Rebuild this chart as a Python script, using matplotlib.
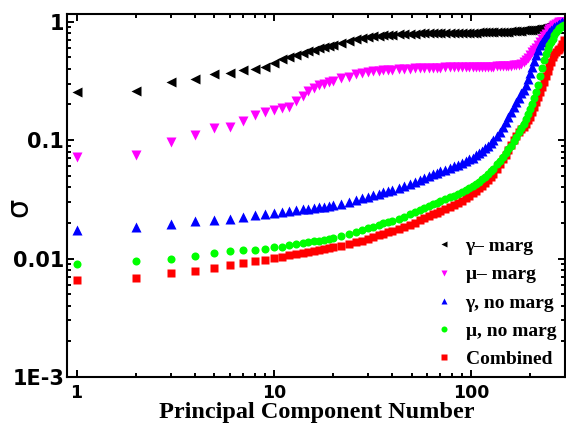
import matplotlib
matplotlib.use('Agg')
from matplotlib import pyplot as plt
from matplotlib.ticker import FixedLocator, FixedFormatter, LogLocator, NullFormatter

# principal component index (x) shared by all series
pc = [1, 2, 3, 4, 5, 6, 7, 8, 9, 10, 11, 12, 13, 14, 15, 16, 17, 18, 19, 20,
      22, 24, 26, 28, 30, 32, 34, 36, 38, 40,
      43, 46, 49, 52, 55, 58, 61, 64, 67, 70,
      74, 78, 82, 86, 90, 94, 98, 102, 106, 110, 114, 118, 122, 126, 130,
      135, 140, 145, 150, 155, 160, 165, 170, 175, 180, 185, 190, 195, 200,
      205, 210, 215, 220, 225, 230, 235, 240, 245, 250, 255, 260, 265, 270,
      275, 280, 285, 290, 295]

gamma_marg = [.256, .262, .31, .33, .36, .37, .39, .40, .415, .445, .485, .505, .525, .545, .56, .58, .595, .61, .625, .64,
              .665, .69, .71, .73, .745, .755, .762, .768, .774, .778,
              .783, .787, .79, .793, .795, .797, .798, .799, .80, .80,
              .801, .802, .803, .804, .805, .806, .807, .808, .809, .81, .811, .812, .813, .814, .815,
              .817, .819, .821, .823, .825, .827, .829, .832, .835, .838, .842, .846, .85, .854,
              .858, .863, .868, .874, .88, .888, .898, .91, .92, .932, .943, .952, .96, .967,
              .973, .978, .983, .99, 1.0]

mu_marg = [.0726, .075, .097, .11, .126, .128, .146, .163, .174, .18, .188, .192, .215, .237, .258, .273, .29, .30, .31, .318,
           .332, .344, .358, .37, .376, .38, .384, .387, .39, .393,
           .396, .399, .401, .403, .405, .406, .407, .408, .409, .41,
           .411, .411, .412, .412, .413, .413, .414, .414, .415, .415, .416, .416, .417, .417, .418,
           .419, .42, .421, .422, .424, .426, .428, .43, .433, .44, .452, .47, .495, .52,
           .55, .575, .60, .63, .67, .71, .75, .79, .83, .86, .89, .92, .94, .96,
           .975, .985, .99, .995, 1.0]

gamma_nomarg = [.0175, .0186, .0195, .0206, .0212, .0216, .0223, .0231, .0237, .0241, .0249, .0254, .0256, .026, .0264, .0268, .0271, .0275, .0279, .0283,
                .0291, .0302, .0312, .0322, .0334, .0343, .0352, .0362, .0373, .0382,
                .0397, .0412, .0428, .0445, .0462, .048, .0497, .0515, .053, .0545,
                .0562, .058, .060, .062, .064, .0662, .0686, .0712, .0742, .0775, .081, .085, .089, .094, .100,
                .108, .118, .13, .143, .157, .172, .19, .21, .228, .248, .266, .29, .33, .37,
                .415, .465, .52, .58, .63, .67, .71, .75, .785, .815, .845, .87, .895, .92,
                .94, .96, .975, .99, 1.0]

mu_nomarg = [.009, .0096, .0099, .0106, .0111, .0115, .0117, .0119, .0121, .0124, .0126, .0129, .0132, .0135, .0137, .014, .0142, .0144, .0147, .0149,
             .0154, .0161, .0167, .0173, .018, .0186, .0192, .0198, .0204, .0209,
             .0217, .0226, .0237, .0248, .0259, .0268, .0278, .0288, .0297, .0305,
             .0316, .0328, .034, .0352, .0365, .0378, .0393, .0408, .0425, .0443, .0465, .049, .0515, .0545, .0575,
             .0625, .066, .072, .078, .084, .090, .098, .107, .116, .126, .137, .150, .165, .182,
             .20, .225, .255, .29, .35, .41, .47, .53, .585, .63, .675, .72, .77, .82,
             .855, .88, .905, .925, .94]

combined = [.0066, .0068, .0076, .0079, .0084, .0089, .0092, .0095, .0098, .0101, .0104, .0107, .011, .0112, .0114, .0116, .0118, .012, .0122, .0124,
            .0127, .0132, .0137, .0142, .0147, .0152, .0157, .0162, .0166, .017,
            .0177, .0184, .0192, .020, .021, .0219, .0228, .0236, .0244, .0251,
            .026, .027, .0282, .0295, .0309, .0323, .0338, .0355, .0373, .0393, .0413, .0435, .0462, .049, .052,
            .057, .063, .069, .0755, .083, .091, .10, .108, .116, .123, .13, .138, .147, .158,
            .172, .19, .21, .232, .255, .28, .31, .345, .38, .42, .46, .50, .53, .555,
            .575, .59, .61, .65, .70]

labels = ['\u03b3\u2013 marg', '\u03bc\u2013 marg', '\u03b3, no marg', '\u03bc, no marg', 'Combined']

fig = plt.figure(figsize=(5.66, 4.33), dpi=100)
ax = fig.add_axes([67 / 566, 56 / 433, 498 / 566, 363 / 433])

h1, = ax.plot(pc, gamma_marg, ls='none', marker='<', ms=6.5, color='black', mec='none')
h2, = ax.plot(pc, mu_marg, ls='none', marker='v', ms=6.5, color='#ff00ff', mec='none')
h5, = ax.plot(pc, combined, ls='none', marker='s', ms=5.2, color='#ff0000', mec='none')
h3, = ax.plot(pc, gamma_nomarg, ls='none', marker='^', ms=6.5, color='#0000ff', mec='none')
h4, = ax.plot(pc, mu_nomarg, ls='none', marker='o', ms=5.8, color='#00ff00', mec='none')

ax.set_xscale('log')
ax.set_yscale('log')
ax.set_xlim(0.895, 300)
ax.set_ylim(1e-3, 1.16)

ax.xaxis.set_major_locator(FixedLocator([1, 10, 100]))
ax.xaxis.set_major_formatter(FixedFormatter(['1', '10', '100']))
ax.yaxis.set_major_locator(FixedLocator([1e-3, 1e-2, 1e-1, 1]))
ax.yaxis.set_major_formatter(FixedFormatter(['1E-3', '0.01', '0.1', '1']))
for axis in (ax.xaxis, ax.yaxis):
    axis.set_minor_locator(LogLocator(base=10, subs=range(2, 10)))
    axis.set_minor_formatter(NullFormatter())

ax.tick_params(which='both', direction='in', top=True, right=True, width=1.4)
ax.tick_params(which='major', length=5)
ax.tick_params(which='minor', length=3)
ax.tick_params(axis='x', which='major', pad=5, labelsize=12.5)
ax.tick_params(axis='y', which='major', pad=2, labelsize=15)
for lab in ax.get_xticklabels() + ax.get_yticklabels():
    lab.set_fontweight('bold')
    lab.set_family('DejaVu Sans')
for sp in ax.spines.values():
    sp.set_linewidth(1.5)

fig.text(317 / 566, 15 / 433, 'Principal Component Number', ha='center', va='baseline',
         fontsize=17.5, fontweight='bold', family='Liberation Serif')
fig.text(19 / 566, 1 - 207 / 433, '\u03c3', rotation=90, ha='center', va='center',
         fontsize=22, family='DejaVu Sans')

leg = ax.legend([h1, h2, h3, h4, h5], labels, loc='lower right', frameon=False,
                numpoints=1, markerscale=0.75, handlelength=1.0, handletextpad=0.6,
                labelspacing=0.55, borderaxespad=0.05,
                prop={'family': 'Liberation Serif', 'weight': 'bold', 'size': 14})

fig.savefig('out.png', dpi=100)
